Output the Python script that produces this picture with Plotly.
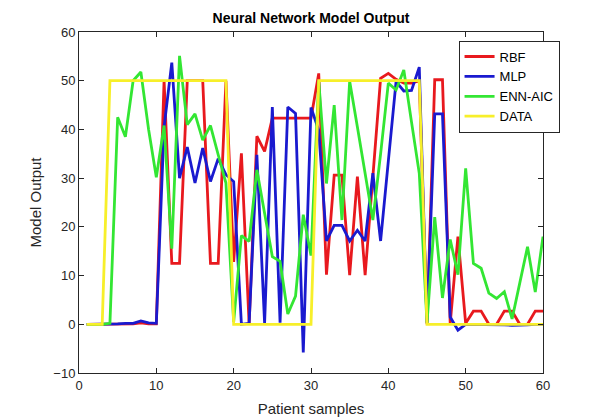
import plotly.graph_objects as go

samples = list(range(1, 61))

rbf = [0, 0, 0, 0, 0, 0.1, 0.1, 0.3, 0.1, 0.1,
       50, 12.5, 12.5, 50, 50, 50, 12.5, 12.5, 50, 12.8,
       35.1, 0, 38.6, 35.5, 42.3, 42.3, 42.3, 42.3, 42.3, 42.3,
       51.5, 10.2, 30.6, 30.6, 10.1, 30.3, 10.1, 30.5, 50.5, 51.5,
       50.3, 49.5, 49.5, 50, 0, 50.2, 50.2, 0.2, 18, 0.2,
       2.7, 2.7, 0, 0, 2.7, 2.7, 0, 0, 2.7, 2.7]

mlp = [0, 0, 0, 0, 0.1, 0.2, 0.2, 0.7, 0.3, 0.2,
       40.5, 53.7, 30, 36.4, 29, 36.2, 29.3, 34, 30.7, 29.3,
       0, 0.2, 34.8, 0.2, 44.6, 0.3, 44.6, 43.3, -5.8, 44.5,
       39.8, 17.1, 20.3, 20.3, 17.1, 19.3, 17.1, 31, 17.1, 33.5,
       49.8, 47.9, 48, 52.8, 0.3, 43.2, 43.2, 1.5, -1.2, 0,
       0, 0, 0, -0.1, -0.1, -0.2, -0.2, -0.1, 0, 0]

enn_aic = [0, 0, 0, 0.2, 42.5, 38.5, 50, 51.8, 40, 30.2,
           40.8, 15.5, 55.1, 41, 43.2, 37.8, 40.8, 34.8, 29, 0.5,
           18.2, 17, 31.7, 22.8, 13.9, 12.9, 2.1, 5.8, 22.5, 14.1,
           50, 28.9, 45, 21.4, 49.9, 40.5, 31, 21.4, 35, 49.5,
           48.1, 52.2, 41.5, 31, 0.3, 22, 5.4, 17.4, 10.2, 32,
           12.5, 11.5, 6.4, 5.3, 6.7, 1.1, 8.5, 15.9, 6.6, 18]

data = [0, 0, 0, 50, 50, 50, 50, 50, 50, 50,
        50, 50, 50, 50, 50, 50, 50, 50, 50, 0,
        0, 0, 0, 0, 0, 0, 0, 0, 0, 0,
        50, 50, 50, 50, 50, 50, 50, 50, 50, 50,
        50, 50, 50, 50, 0, 0, 0, 0, 0, 0,
        0, 0, 0, 0, 0, 0, 0, 0, 0, 0]

series = [
    ("RBF", rbf, "#e8191e"),
    ("MLP", mlp, "#1a1acf"),
    ("ENN-AIC", enn_aic, "#33e633"),
    ("DATA", data, "#f7ef2a"),
]

FONT = "Liberation Sans, Arial, Helvetica, sans-serif"
AX = "#262626"

fig = go.Figure()
for name, vals, col in series:
    fig.add_trace(go.Scatter(x=samples, y=vals, mode="lines", name=name,
                             line=dict(color=col, width=2.8)))

axis_common = dict(
    showgrid=False, zeroline=False, showline=True, mirror="ticks",
    linecolor=AX, linewidth=1, ticks="inside", ticklen=5, tickcolor=AX,
    tickfont=dict(family=FONT, size=13, color=AX), dtick=10, automargin=False,
)

fig.update_layout(
    width=600, height=419,
    margin=dict(l=79, r=57, t=32, b=46),
    paper_bgcolor="white", plot_bgcolor="white",
    font=dict(family=FONT, color=AX),
    title=dict(text="<b>Neural Network Model Output</b>", x=(79 + 464 / 2) / 600, xanchor="center",
               y=1 - 18 / 419, yanchor="middle", font=dict(family=FONT, size=14, color="black")),
    xaxis=dict(range=[0, 60], title=dict(text="Patient samples", font=dict(family=FONT, size=15, color=AX), standoff=11),
               **axis_common),
    yaxis=dict(range=[-10, 60], title=dict(text="Model Output", font=dict(family=FONT, size=15, color=AX), standoff=8),
               **axis_common),
    legend=dict(x=0.818, y=0.975, xanchor="left", yanchor="top",
                bgcolor="white", bordercolor=AX, borderwidth=1,
                font=dict(family=FONT, size=13, color="black"),
                tracegroupgap=0, itemwidth=30),
    showlegend=True,
)

fig.write_html("out.html", config={"displayModeBar": False},
               post_script="document.body.style.margin='0';document.body.style.overflow='hidden';")
